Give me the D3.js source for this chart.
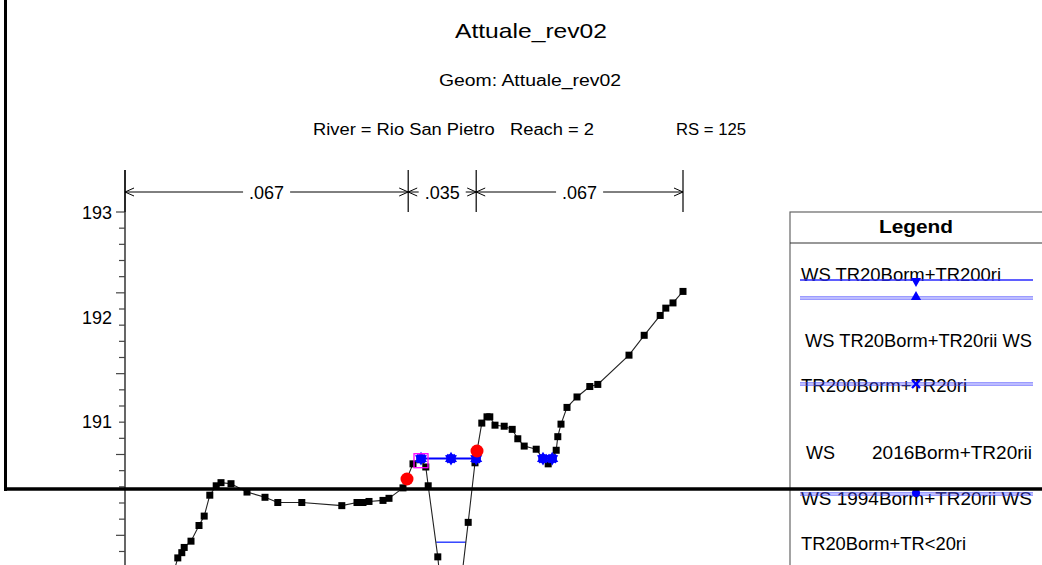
<!DOCTYPE html>
<html>
<head>
<meta charset="utf-8">
<script src="https://cdn.jsdelivr.net/npm/d3@7/dist/d3.min.js"></script>
<style>
  html, body { margin: 0; padding: 0; background: #fff; }
  svg { display: block; font-family: "Liberation Sans", Arial, sans-serif; }
  text { white-space: pre; }
</style>
</head>
<body>
<svg id="grafico"></svg>
<script>
// Dati della sezione (stazione in m, quota in m s.l.m.)
var stazioni = [5.9, 6.6, 7.1, 7.4, 8.25, 9.25, 9.9, 10.6, 11.4, 12.0, 13.25, 15.25, 17.5, 19.1, 22.1,
  27.1, 29.0, 29.75, 30.5, 32.25, 33.0, 34.75, 36.0, 36.9, 37.6, 37.9, 39.1, 39.5, 41.9, 42.9,
  43.75, 44.6, 45.25, 45.6, 46.25, 47.4, 48.4, 49.1, 49.9, 51.4, 52.25, 52.9, 53.4, 53.9, 54.1,
  54.5, 55.25, 56.5, 58.1, 59.1, 63.0, 64.9, 66.9, 67.6, 68.5, 69.75];
var quote = [189.50, 189.69, 189.74, 189.79, 189.85, 190.00, 190.09, 190.29, 190.38, 190.41, 190.40, 190.32, 190.27, 190.22, 190.22,
  190.19, 190.22, 190.22, 190.23, 190.24, 190.26, 190.36, 190.59, 190.63, 190.56, 190.38, 189.70, 189.38, 189.38, 190.03,
  190.60, 190.98, 191.04, 191.04, 190.96, 190.95, 190.92, 190.83, 190.76, 190.73, 190.64, 190.59, 190.64, 190.72, 190.85,
  190.97, 191.13, 191.23, 191.33, 191.35, 191.63, 191.82, 192.01, 192.08, 192.13, 192.24];

// Sponde (Bank Sta)
var spondeStazione = [35.25, 44.0];
var spondeQuota = [190.445, 190.713];

// Manning
var manningLimiti = [0, 35.4, 43.9, 69.75];
var manningValori = [".067", ".035", ".067"];

// Pelo libero
var wsStazioni = [37.0, 40.75, 43.9];
var wsPozzaStazioni = [52.25, 53.4];
var wsQuota = 190.64;
var wsBassoStazioni = [38.9, 42.6];
var wsBassoQuota = 189.84;
var inefficaceStazione = 37.0, inefficaceQuota = 190.62;

// Asse y
var yEtichette = [193, 192, 191];
var yPasso = 0.1547;

// Legenda
var legendaTesti = ["WS TR20Borm+TR200ri", "WS TR20Borm+TR20rii WS", "TR200Borm+TR20ri",
  "WS", "2016Borm+TR20rii", "WS 1994Borm+TR20rii WS", "TR20Borm+TR<20ri"];

var anchura = 1042, altura = 565;
var svg = d3.select("#grafico").attr("width", anchura).attr("height", altura);

var x = d3.scaleLinear().domain([0, 70]).range([125, 685]);
var y = d3.scaleLinear().domain([191, 193]).range([421, 212]);

// Titoli (testo leggermente allargato come nell'originale)
function testo(t, px, py, size, len, anchor) {
  return svg.append("text").attr("x", px).attr("y", py)
    .attr("dominant-baseline", "central")
    .attr("text-anchor", anchor || "start")
    .attr("font-size", size)
    .attr("textLength", len).attr("lengthAdjust", "spacingAndGlyphs")
    .text(t);
}
testo("Attuale_rev02", 531, 30, 21, 152, "middle");
testo("Geom: Attuale_rev02", 530, 80, 16, 182, "middle");
testo("River = Rio San Pietro   Reach = 2", 313, 129, 16, 281);
testo("RS = 125", 676, 129, 16, 70);

// Asse y
svg.append("line").attr("x1", 125).attr("x2", 125).attr("y1", 170).attr("y2", altura)
  .attr("stroke", "#000").attr("stroke-width", 1.2);
var tacche = d3.range(0, 23).map(function (i) { return 193 - i * yPasso; });
svg.selectAll(".tacca").data(tacche).join("line")
  .attr("class", "tacca")
  .attr("x1", function (d, i) { return i % 5 === 0 ? 116 : 119; })
  .attr("x2", 125)
  .attr("y1", function (d) { return y(d); }).attr("y2", function (d) { return y(d); })
  .attr("stroke", "#444").attr("stroke-width", 1.2);
svg.selectAll(".ylab").data(yEtichette).join("text")
  .attr("class", "ylab")
  .attr("x", 112).attr("y", function (d) { return y(d) + 1; })
  .attr("text-anchor", "end").attr("dominant-baseline", "central")
  .attr("font-size", 18).text(function (d) { return d; });

// Banda Manning
var nY = 192;
manningLimiti.forEach(function (s) {
  svg.append("line").attr("x1", x(s)).attr("x2", x(s)).attr("y1", 170).attr("y2", 212)
    .attr("stroke", "#000").attr("stroke-width", 1.2);
});
manningValori.forEach(function (v, i) {
  var x0 = x(manningLimiti[i]), x1 = x(manningLimiti[i + 1]), mid = (x0 + x1) / 2;
  var t = svg.append("text").attr("x", mid).attr("y", nY + 1)
    .attr("text-anchor", "middle").attr("dominant-baseline", "central")
    .attr("font-size", 18).text(v);
  var w = t.node().getComputedTextLength();
  var g0 = mid - w / 2 - 6, g1 = mid + w / 2 + 6;
  if (g0 > x0) svg.append("line").attr("x1", x0).attr("x2", g0).attr("y1", nY).attr("y2", nY).attr("stroke", "#000");
  if (g1 < x1) svg.append("line").attr("x1", g1).attr("x2", x1).attr("y1", nY).attr("y2", nY).attr("stroke", "#000");
  svg.append("path").attr("d", "M" + (x0 + 9) + "," + (nY - 4) + "L" + x0 + "," + nY + "L" + (x0 + 9) + "," + (nY + 4))
    .attr("fill", "none").attr("stroke", "#000");
  svg.append("path").attr("d", "M" + (x1 - 9) + "," + (nY - 4) + "L" + x1 + "," + nY + "L" + (x1 - 9) + "," + (nY + 4))
    .attr("fill", "none").attr("stroke", "#000");
});

// Pelo libero basso
svg.append("line").attr("x1", x(wsBassoStazioni[0])).attr("x2", x(wsBassoStazioni[1]))
  .attr("y1", y(wsBassoQuota)).attr("y2", y(wsBassoQuota))
  .attr("stroke", "#3344ff").attr("stroke-width", 1.5);

// Terreno
var punti = stazioni.map(function (s, i) { return [s, quote[i]]; });
var linea = d3.line().x(function (d) { return x(d[0]); }).y(function (d) { return y(d[1]); });
svg.append("path").datum(punti).attr("d", linea)
  .attr("fill", "none").attr("stroke", "#222").attr("stroke-width", 1.1);
svg.selectAll(".punto").data(punti).join("rect")
  .attr("class", "punto")
  .attr("x", function (d) { return x(d[0]) - 3.5; })
  .attr("y", function (d) { return y(d[1]) - 3.5; })
  .attr("width", 7).attr("height", 7).attr("fill", "#000");

// Pelo libero principale
svg.append("line").attr("x1", x(wsStazioni[0])).attr("x2", x(wsStazioni[2]))
  .attr("y1", y(wsQuota)).attr("y2", y(wsQuota))
  .attr("stroke", "#0000ff").attr("stroke-width", 2);
svg.append("line").attr("x1", x(wsPozzaStazioni[0])).attr("x2", x(wsPozzaStazioni[1]))
  .attr("y1", y(wsQuota)).attr("y2", y(wsQuota))
  .attr("stroke", "#0000ff").attr("stroke-width", 2);

function marcatori(g, px, py, tipi, dim) {
  var k = dim || 1;
  tipi.forEach(function (tipo) {
    if (tipo === "down") {
      g.append("path").attr("d", d3.symbol().type(d3.symbolTriangle).size(45 * k)())
        .attr("transform", "translate(" + px + "," + py + ") rotate(180)").attr("fill", "#0000ff");
    } else if (tipo === "up") {
      g.append("path").attr("d", d3.symbol().type(d3.symbolTriangle).size(45 * k)())
        .attr("transform", "translate(" + px + "," + py + ")").attr("fill", "#0000ff");
    } else if (tipo === "x") {
      g.append("path").attr("d", "M-4,-4L4,4M-4,4L4,-4")
        .attr("transform", "translate(" + px + "," + py + ")")
        .attr("stroke", "#0000ff").attr("stroke-width", 2.4);
    } else if (tipo === "o") {
      g.append("circle").attr("cx", px).attr("cy", py).attr("r", 4 * Math.sqrt(k)).attr("fill", "#0000ff");
    }
  });
}
var gMarc = svg.append("g");
wsStazioni.concat(wsPozzaStazioni).forEach(function (s) {
  marcatori(gMarc, x(s), y(wsQuota), ["down", "up", "x", "o"], 1.4);
});

// Area inefficace
svg.append("rect").attr("x", x(inefficaceStazione) - 7).attr("y", y(inefficaceQuota) - 7)
  .attr("width", 14).attr("height", 14)
  .attr("fill", "none").attr("stroke", "#ff00ff").attr("stroke-width", 1.3);

// Sponde
svg.selectAll(".sponda").data(spondeStazione).join("circle")
  .attr("class", "sponda")
  .attr("cx", function (d) { return x(d); })
  .attr("cy", function (d, i) { return y(spondeQuota[i]); })
  .attr("r", 6.5).attr("fill", "#ff0000");

// Legenda
var leg = svg.append("g");
leg.append("rect").attr("x", 790).attr("y", 212).attr("width", 300).attr("height", 400)
  .attr("fill", "#fff").attr("stroke", "#666").attr("stroke-width", 1.2);
leg.append("line").attr("x1", 790).attr("x2", anchura).attr("y1", 243).attr("y2", 243)
  .attr("stroke", "#333").attr("stroke-width", 1.2);
leg.append("text").attr("x", 916).attr("y", 226).attr("text-anchor", "middle")
  .attr("dominant-baseline", "central").attr("font-size", 19).attr("font-weight", "bold")
  .attr("textLength", 74).attr("lengthAdjust", "spacingAndGlyphs").text("Legend");

var legPos = [[801, 274, 200], [805, 340, 227], [801, 385, 166], [806, 452, 29], [872, 452, 160], [801, 498, 231], [801, 543, 165]];
legendaTesti.forEach(function (t, i) {
  leg.append("text").attr("x", legPos[i][0]).attr("y", legPos[i][1])
    .attr("dominant-baseline", "central").attr("font-size", 19)
    .attr("textLength", legPos[i][2]).attr("lengthAdjust", "spacingAndGlyphs").text(t);
});
function legLinea(py, doppia) {
  if (doppia) {
    [-1.2, 1.2].forEach(function (o) {
      leg.append("line").attr("x1", 800).attr("x2", 1033).attr("y1", py + o).attr("y2", py + o)
        .attr("stroke", "#4d4dff").attr("stroke-opacity", 0.75).attr("stroke-width", 1.2);
    });
  } else {
    leg.append("line").attr("x1", 800).attr("x2", 1033).attr("y1", py).attr("y2", py)
      .attr("stroke", "#2a2aff").attr("stroke-width", 1.4);
  }
}
legLinea(280, false); marcatori(leg, 916, 281, ["down"]);
legLinea(298, true); marcatori(leg, 916, 297, ["up"]);
legLinea(384, true); marcatori(leg, 916, 384, ["x"]);
legLinea(494, true); marcatori(leg, 916, 493, ["o"]);

// Cornice spessa
svg.append("line").attr("x1", 5.5).attr("x2", 5.5).attr("y1", 0).attr("y2", 491)
  .attr("stroke", "#000").attr("stroke-width", 3);
svg.append("line").attr("x1", 4).attr("x2", anchura).attr("y1", 489).attr("y2", 489)
  .attr("stroke", "#000").attr("stroke-width", 3.5);
</script>
</body>
</html>
